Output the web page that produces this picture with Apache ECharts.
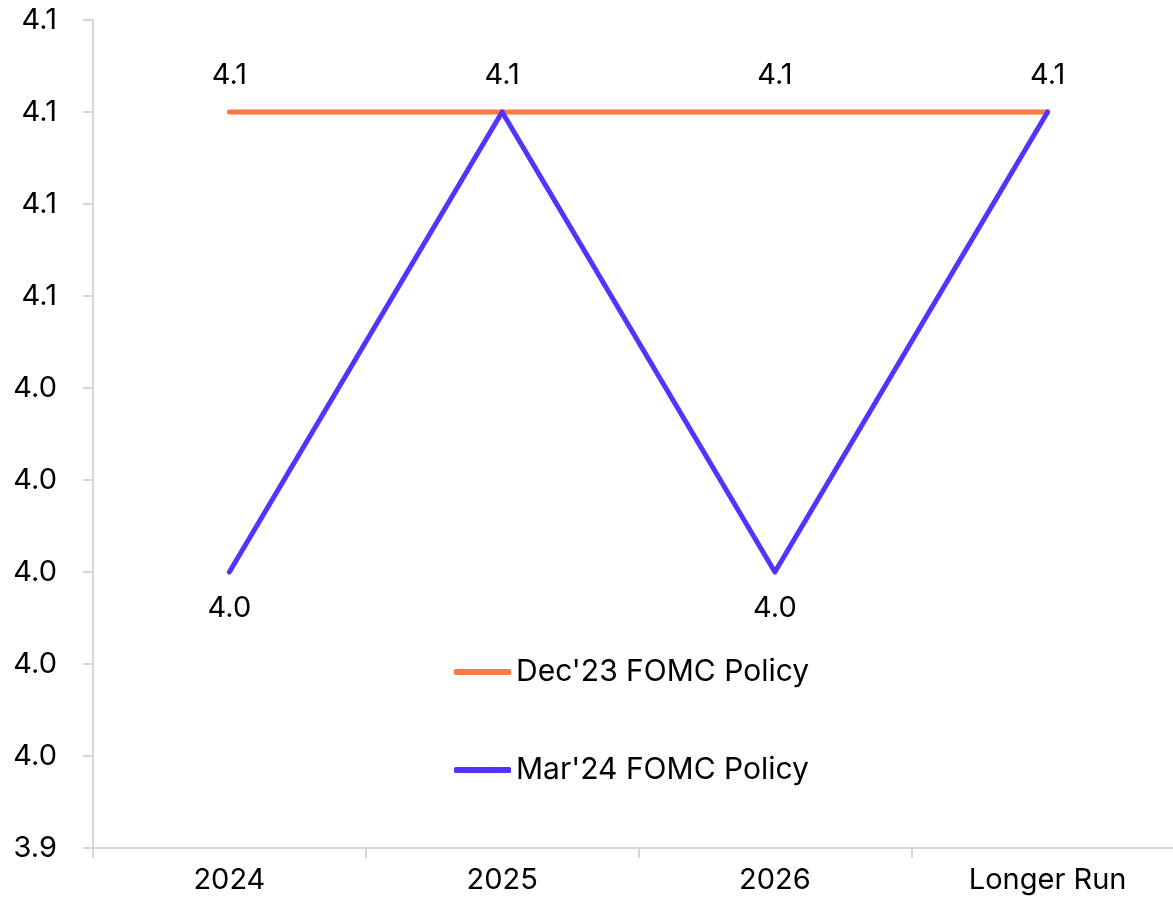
<!DOCTYPE html>
<html lang="en">
<head>
    <meta charset="UTF-8">
    <title>FOMC Policy</title>
    <script src="https://cdn.jsdelivr.net/npm/echarts@6/dist/echarts.min.js"></script>
</head>
<style>
    body{
        margin: 0;
        padding: 0;
        background: #fff;
    }
</style>
<body>
<div id="main" style="width: 1173px;height:908px;"></div>
<script>
    var categories = ['2024', '2025', '2026', 'Longer Run'];
    var dec23 = [4.1, 4.1, 4.1, 4.1];
    var mar24 = [4.0, 4.1, 4.0, 4.1];
    var seriesNames = ["Dec'23 FOMC Policy", "Mar'24 FOMC Policy"];
    var colors = ['#FF7A45', '#5533FF'];

    var font = 'Inter, "Noto Sans", sans-serif';
    var axisGray = '#D9D5D2';

    // purple labels only where they are not hidden behind the orange ones
    var marData = [];
    for (var i = 0; i < mar24.length; i++) {
        marData.push({
            value: mar24[i],
            label: { show: mar24[i] < 4.05 }
        });
    }

    var chart = echarts.init(document.getElementById('main'));
    var option = {
        animation: false,
        color: colors,
        grid: {
            left: 93,
            width: 1091,
            top: 20,
            bottom: 60,
            containLabel: false,
            outerBoundsMode: 'none'
        },
        legend: {
            orient: 'vertical',
            left: 449,
            top: 652,
            itemGap: 68,
            itemWidth: 57,
            itemHeight: 6,
            icon: 'roundRect',
            textStyle: {
                fontFamily: font,
                fontSize: 30,
                color: '#000'
            },
            data: seriesNames
        },
        xAxis: {
            type: 'category',
            data: categories,
            axisLine: { lineStyle: { color: axisGray, width: 2 } },
            axisTick: { show: true, length: 10, lineStyle: { color: axisGray, width: 2 } },
            axisLabel: {
                margin: 18,
                fontFamily: font,
                fontSize: 29,
                color: '#000'
            }
        },
        yAxis: {
            type: 'value',
            min: 3.94,
            max: 4.12,
            interval: 0.02,
            axisLine: { show: true, lineStyle: { color: axisGray, width: 2 } },
            axisTick: { show: true, length: 10, lineStyle: { color: axisGray, width: 2 } },
            splitLine: { show: false },
            axisLabel: {
                margin: 36,
                fontFamily: font,
                fontSize: 29,
                color: '#000',
                formatter: function (v) {
                    return v.toFixed(1);
                }
            }
        },
        series: [
            {
                name: seriesNames[0],
                type: 'line',
                data: dec23,
                symbol: 'circle',
                symbolSize: 0.1,
                lineStyle: { width: 5, cap: 'round', color: colors[0] },
                itemStyle: { color: colors[0] },
                label: {
                    show: true,
                    position: 'top',
                    distance: 22,
                    fontFamily: font,
                    fontSize: 29,
                    color: '#000',
                    formatter: function (p) {
                        return p.value.toFixed(1);
                    }
                },
                z: 2
            },
            {
                name: seriesNames[1],
                type: 'line',
                data: marData,
                symbol: 'circle',
                symbolSize: 0.1,
                lineStyle: { width: 5, cap: 'round', join: 'round', color: colors[1] },
                itemStyle: { color: colors[1] },
                label: {
                    position: 'bottom',
                    distance: 22,
                    fontFamily: font,
                    fontSize: 29,
                    color: '#000',
                    formatter: function (p) {
                        return p.value.toFixed(1);
                    }
                },
                z: 3
            }
        ]
    };
    chart.setOption(option);
</script>
</body>
</html>
